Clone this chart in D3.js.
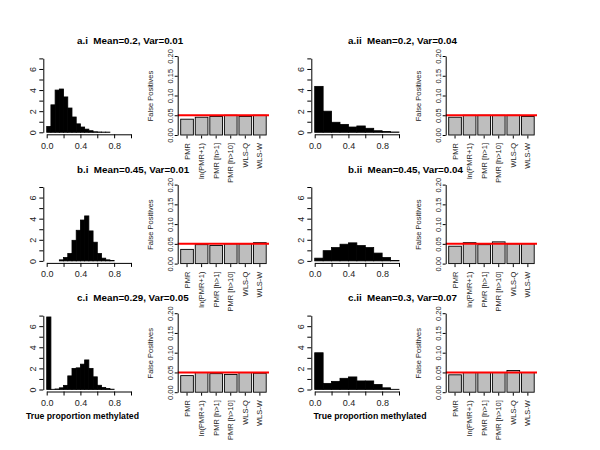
<!DOCTYPE html>
<html><head><meta charset="utf-8">
<script src="https://cdn.jsdelivr.net/npm/d3@7"></script>
<style>
body{margin:0;background:#fff;}
svg{font-family:"Liberation Sans",Arial,Helvetica,sans-serif;}
text{white-space:pre;}
</style></head>
<body><svg id="c" width="600" height="450"></svg>
<script>
// ---------- data ----------
const methods = ["PMR","ln(PMR+1)","PMR [h>1]","PMR [h>10]","WLS-Q","WLS-W"];
const titles = ["a.i  Mean=0.2, Var=0.01","a.ii  Mean=0.2, Var=0.04",
                "b.i  Mean=0.45, Var=0.01","b.ii  Mean=0.45, Var=0.04",
                "c.i  Mean=0.29, Var=0.05","c.ii  Mean=0.3, Var=0.07"];
const binWidths = [0.05, 0.1, 0.05, 0.1, 0.05, 0.1];
// histogram densities (bins start at 0)
const histAi  = [0.55,2.6,4.0,4.1,3.35,2.3,1.45,0.8,0.5,0.3,0.15,0.05,0.03,0.02,0.02];
const histAii = [4.35,2.0,0.95,0.75,0.5,0.6,0.38,0.15,0.08,0.03];
const histBi  = [0,0,0,0.1,0.32,0.7,1.95,2.9,3.87,4.26,2.84,1.77,0.7,0.26,0.1,0.03];
const histBii = [0.26,0.97,1.26,1.58,1.71,1.45,1.26,0.74,0.32,0.03];
const histCi  = [6.87,0.02,0.05,0.16,0.39,1.29,2.0,2.05,2.4,2.8,2.0,1.2,0.4,0.2,0.1,0.03];
const histCii = [3.48,0.58,0.77,1.06,1.19,0.81,0.81,0.48,0.16,0.02];
// false positive rates per method
const fpAi  = [0.040,0.045,0.047,0.050,0.047,0.050];
const fpAii = [0.045,0.050,0.050,0.050,0.050,0.047];
const fpBi  = [0.036,0.048,0.046,0.050,0.050,0.053];
const fpBii = [0.044,0.053,0.048,0.055,0.050,0.050];
const fpCi  = [0.042,0.050,0.047,0.045,0.050,0.048];
const fpCii = [0.044,0.050,0.050,0.050,0.055,0.050];
const nominal = 0.05;
const histTicks = [0,0.2,0.4,0.6,0.8,1.0];
const histLabels = ["0.0","","0.4","","0.8",""];
const densTicks = [0,1,2,3,4,5,6,7];
const fpTicks = [0,0.05,0.10,0.15,0.20];
const fpLabels = ["0.00","0.05","0.10","0.15","0.20"];
const xlabText = "True proportion methylated";
const ylabText = "False Positives";

const hists = [histAi,histAii,histBi,histBii,histCi,histCii];
const fps = [fpAi,fpAii,fpBi,fpBii,fpCi,fpCii];

// ---------- drawing ----------
const svg = d3.select("#c");
const ROW = 128.6, COL = 268;

hists.forEach((h, k) => {
  const r = Math.floor(k/2), c = k%2;
  const dx = c*COL, dy = r*ROW;
  const g = svg.append("g");

  // title
  g.append("text").attr("x", 77 + c*271).attr("y", 44 + dy)
    .attr("font-size", 9.8).attr("font-weight","bold").attr("fill","#000")
    .text(titles[k]);

  // ---- histogram ----
  const x = d3.scaleLinear().domain([0,1]).range([46.7+dx, 131+dx]);
  const y = d3.scaleLinear().domain([0,7]).range([132.3+dy, 58.4+dy]);
  const bw = binWidths[k];
  g.append("g").selectAll("rect").data(h).join("rect")
    .attr("x", (d,i) => x(i*bw))
    .attr("width", (d,i) => x((i+1)*bw) - x(i*bw))
    .attr("y", d => y(d))
    .attr("height", d => y(0) - y(d))
    .attr("fill","#000").attr("stroke","#000").attr("stroke-width",0.8);

  const xa = g.append("g").attr("transform", `translate(0,${y(0)+2})`)
    .call(d3.axisBottom(x).tickValues(histTicks).tickSize(4).tickSizeOuter(0)
      .tickFormat((d,i) => histLabels[i]));
  xa.selectAll("text").attr("font-size",9).attr("font-family",null)
    .attr("y",8).attr("fill","#222");
  const ya = g.append("g").attr("transform", `translate(${x(0)-3.4},0)`)
    .call(d3.axisLeft(y).tickValues(densTicks).tickSize(4).tickSizeOuter(0)
      .tickFormat(d => d%2===0 ? d : ""));
  ya.selectAll("text").attr("font-size",9).attr("font-family",null)
    .attr("transform","rotate(-90)").attr("x",0).attr("y",-7).attr("dy",0)
    .attr("text-anchor","middle").attr("fill","#222");
  [xa,ya].forEach(a => { a.selectAll("path,line").attr("stroke","#000"); });

  if (r === 2) {
    g.append("text").attr("x", 82.5 + c*287.5).attr("y", 419)
      .attr("text-anchor","middle").attr("font-size",8.7).attr("font-weight","bold")
      .text(xlabText);
  }

  // ---- bar chart ----
  const bx = d3.scaleBand().domain(methods).range([180.7+dx, 266.2+dx]).paddingInner(0.13).paddingOuter(0);
  const by = d3.scaleLinear().domain([0,0.2]).range([135+dy, 56+dy]);
  const vals = fps[k];
  g.append("g").selectAll("rect").data(methods).join("rect")
    .attr("x", m => bx(m)).attr("width", bx.bandwidth())
    .attr("y", (m,i) => by(vals[i])).attr("height", (m,i) => by(0) - by(vals[i]))
    .attr("fill","#bebebe").attr("stroke","#000").attr("stroke-width",0.9);

  g.append("line").attr("x1",177.7+dx).attr("x2",269+dx)
    .attr("y1",by(nominal)).attr("y2",by(nominal))
    .attr("stroke","#ff0000").attr("stroke-width",2);

  const bya = g.append("g").attr("transform", `translate(${177.7+dx},0)`)
    .call(d3.axisLeft(by).tickValues(fpTicks).tickSize(3).tickSizeOuter(0)
      .tickFormat((d,i) => fpLabels[i]));
  bya.selectAll("text").attr("font-size",7.5).attr("font-family",null)
    .attr("transform","rotate(-90)").attr("x",0).attr("y",-5).attr("dy",0)
    .attr("text-anchor","middle").attr("fill","#222");
  const bxa = g.append("g").attr("transform", `translate(0,${by(0)+0.5})`)
    .call(d3.axisBottom(bx).tickSize(3).tickSizeOuter(0));
  bxa.select(".domain").remove();
  bxa.selectAll("text").attr("font-size",7.5).attr("font-family",null)
    .attr("transform","rotate(-90)").attr("x",-7.5).attr("y",0).attr("dy","0.35em")
    .attr("text-anchor","end").attr("fill","#222");
  [bya,bxa].forEach(a => { a.selectAll("path,line").attr("stroke","#000"); });

  g.append("text").attr("transform", `translate(${153+dx},${96+dy}) rotate(-90)`)
    .attr("text-anchor","middle").attr("font-size",7.5).attr("fill","#222")
    .text(ylabText);
});
</script>
</body></html>
